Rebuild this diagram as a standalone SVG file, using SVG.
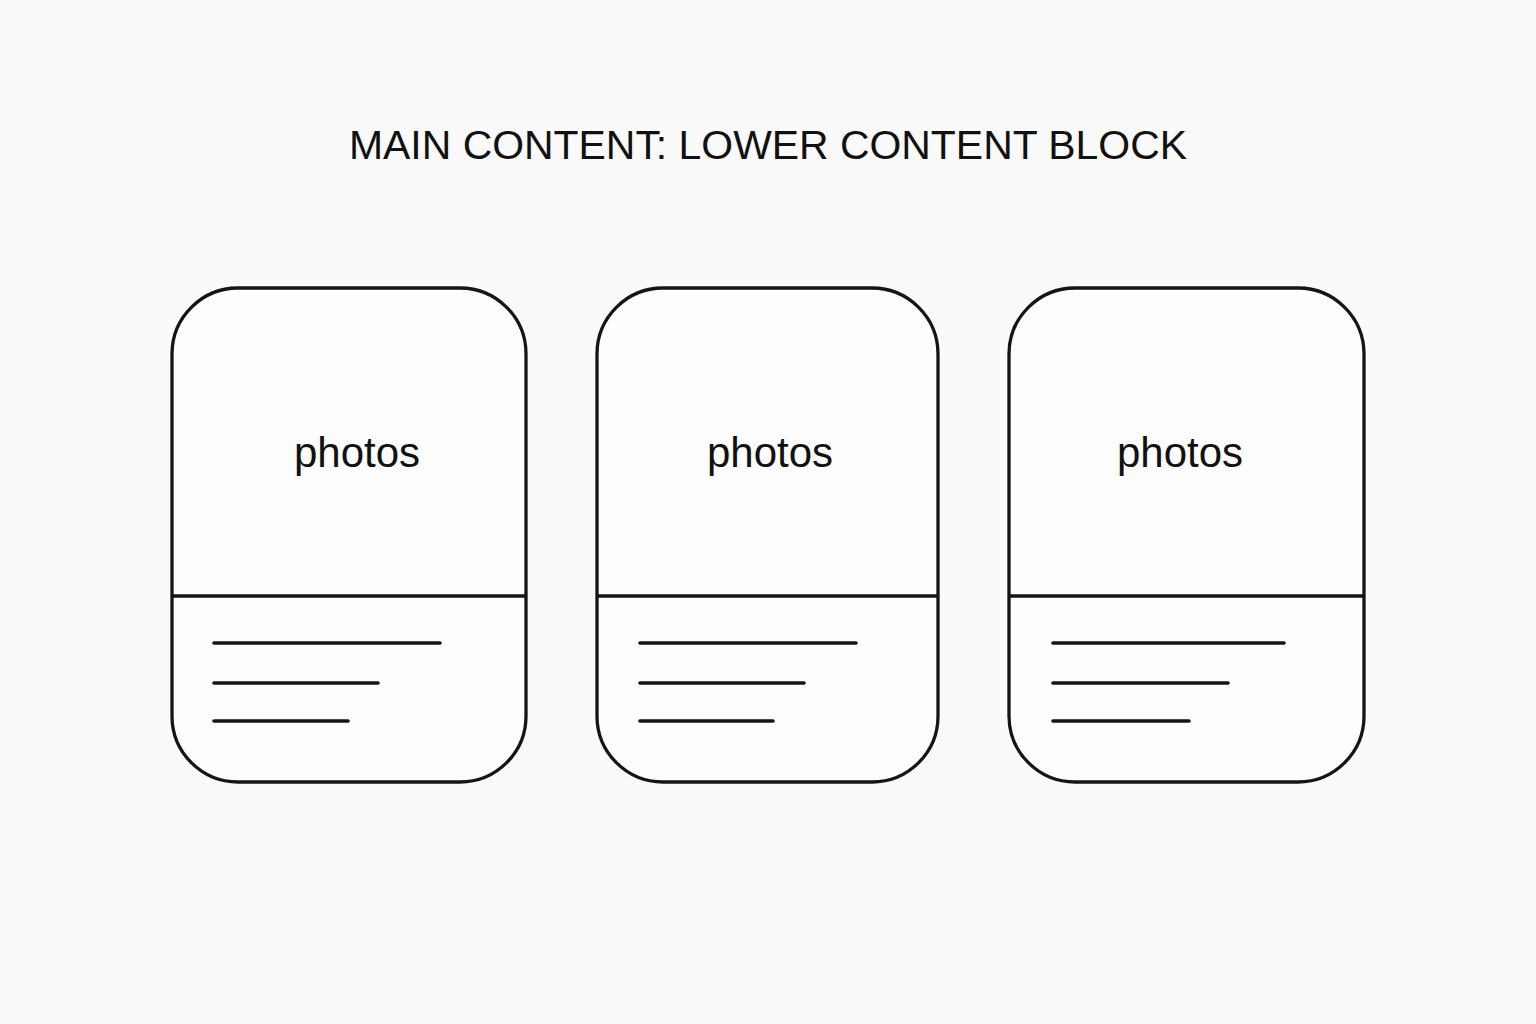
<svg xmlns="http://www.w3.org/2000/svg" width="1536" height="1024" viewBox="0 0 1536 1024">
  <style>
    .card { fill: #fdfdfd; stroke: #151515; stroke-width: 3.3; }
    .divider { stroke: #151515; stroke-width: 3.3; }
    .textline { stroke: #151515; stroke-width: 3.6; stroke-linecap: round; }
    .title { font-family: "Liberation Sans", Arial, sans-serif; font-size: 40px; fill: #111; }
    .label { font-family: "Liberation Sans", Arial, sans-serif; font-size: 42px; fill: #111; }
  </style>
  <rect width="1536" height="1024" fill="#fafafa"/>
  <text class="title" x="768" y="159" text-anchor="middle" textLength="838" lengthAdjust="spacingAndGlyphs">MAIN CONTENT: LOWER CONTENT BLOCK</text>

  <g id="card-1">
    <rect class="card" x="172" y="288" width="354" height="494" rx="66" ry="66"/>
    <line class="divider" x1="172" y1="596" x2="526" y2="596"/>
    <text class="label" x="357" y="467" text-anchor="middle">photos</text>
    <line class="textline" x1="214" y1="643" x2="440" y2="643"/>
    <line class="textline" x1="214" y1="683" x2="378" y2="683"/>
    <line class="textline" x1="214" y1="721" x2="348" y2="721"/>
  </g>

  <g id="card-2">
    <rect class="card" x="597" y="288" width="341" height="494" rx="66" ry="66"/>
    <line class="divider" x1="597" y1="596" x2="938" y2="596"/>
    <text class="label" x="770" y="467" text-anchor="middle">photos</text>
    <line class="textline" x1="640" y1="643" x2="856" y2="643"/>
    <line class="textline" x1="640" y1="683" x2="804" y2="683"/>
    <line class="textline" x1="640" y1="721" x2="773" y2="721"/>
  </g>

  <g id="card-3">
    <rect class="card" x="1009" y="288" width="355" height="494" rx="66" ry="66"/>
    <line class="divider" x1="1009" y1="596" x2="1364" y2="596"/>
    <text class="label" x="1180" y="467" text-anchor="middle">photos</text>
    <line class="textline" x1="1053" y1="643" x2="1284" y2="643"/>
    <line class="textline" x1="1053" y1="683" x2="1228" y2="683"/>
    <line class="textline" x1="1053" y1="721" x2="1189" y2="721"/>
  </g>

  <g id="connectors"></g>
</svg>
